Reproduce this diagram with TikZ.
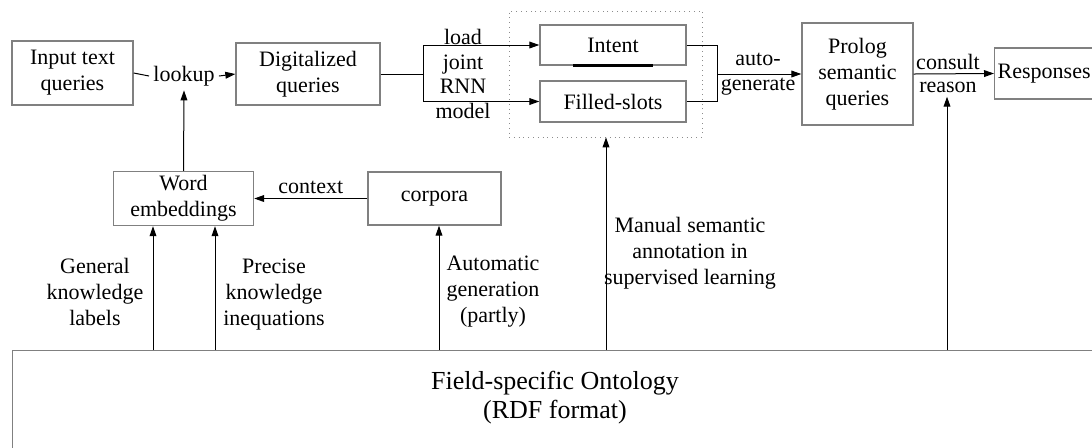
\documentclass[tikz,border=0pt]{standalone}
\usepackage{fontspec}
\setmainfont{Liberation Serif}
\usetikzlibrary{arrows.meta}

\begin{document}
\begin{tikzpicture}[x=0.5pt, y=-0.5pt,
    font=\fontsize{11}{13}\selectfont,
    box/.style={draw=black!50, line width=0.7pt, align=center, inner sep=2pt},
    arr/.style={-{Triangle[length=5pt,width=3.4pt]}, line width=0.5pt},
    lbl/.style={align=center, inner sep=2pt}]
    \useasboundingbox (0,0) rectangle (1092,447);
    \clip (0,0) rectangle (1092,447);
    % top row
    \node[box, minimum width=60.5pt, minimum height=32pt] (input) at (72.5,73) {Input text\\queries};
    \node[lbl] (lookup) at (184,76) {lookup};
    \node[box, minimum width=72pt, minimum height=31pt] (digital) at (308,74) {Digitalized\\queries};
    \node[draw=black!45, dotted, minimum width=96.5pt, minimum height=63pt] (fbox) at (605.5,74) {};
    \node[box, minimum width=73pt, minimum height=20pt] (intent) at (613,45) {Intent};
    \node[box, minimum width=73pt, minimum height=20.5pt] (slots) at (613,101.5) {Filled-slots};
    \node[lbl, font=\fontsize{11}{12.4}\selectfont] (rnn) at (463,74) {load\\joint\\RNN\\model};
    \node[lbl, font=\fontsize{11}{12.5}\selectfont] (autogen2) at (758,74.5) {auto-\\generate};
    \node[box, minimum width=55.5pt, minimum height=51pt] (prolog) at (857.5,74) {Prolog\\semantic\\queries};
    \node[lbl] (consult) at (948,62) {consult};
    \node[lbl] (reason) at (948,87) {reason};
    \node[box, inner xsep=1.5pt, minimum height=25.5pt, anchor=west] (resp) at (994,73.5) {Responses};
    % middle row
    \node[box, minimum width=70pt, minimum height=26pt] (word) at (183.5,198.5) {Word\\embeddings};
    \node[box, minimum width=66.5pt, minimum height=26.5pt] (corp) at (434.5,198.5) {corpora};
    % ontology
    \node[draw=black!50, line width=0.7pt, anchor=north west, minimum width=545pt, minimum height=60pt] (onto) at (12,350) {};
    \node[lbl, font=\fontsize{13}{14.5}\selectfont] (ontotext) at (555,398) {Field-specific Ontology\\(RDF format)};
    % labels on the upward arrows
    \node[lbl] (general) at (95,292) {General\\knowledge\\labels};
    \node[lbl] (precise) at (274,295) {Precise\\knowledge\\inequations};
    \node[lbl] (autogen) at (493,292) {Automatic\\generation\\(partly)};
    \node[lbl] (manual) at (690,253) {Manual semantic\\annotation in\\supervised learning};

    % connectors
    \draw[line width=0.5pt] (input.east) -- (lookup.west);
    \draw[arr] (lookup.east) -- (digital.west);
    \draw[arr] (word.north) -- (lookup.south);
    \path (digital.east) ++(21.5pt,0) coordinate (split);
    \draw[line width=0.5pt] (digital.east) -- (split);
    \draw[arr] (split) |- (intent.west);
    \draw[arr] (split) |- (slots.west);
    \path (intent.east) ++(15.5pt,0) coordinate (m1);
    \coordinate (merge) at (m1 |- digital.east);
    \draw[line width=0.5pt] (intent.east) -| (merge) |- (slots.east);
    \draw[arr] (merge) -- (prolog.west);
    \draw[arr] (prolog.east) -- (resp.west);
    \draw[arr] (corp.west) -- node[above, inner sep=2pt] {context} (word.east);
    \draw[line width=1.3pt] ([xshift=-20pt]intent.south) -- ([xshift=20pt]intent.south);
    \foreach \x/\t in {153/word, 215/word, 439/corp, 606/fbox, 947/reason} {
        \draw[arr] (\x,0 |- onto.north) -- (\x,0 |- \t.south);
    }
\end{tikzpicture}
\end{document}
